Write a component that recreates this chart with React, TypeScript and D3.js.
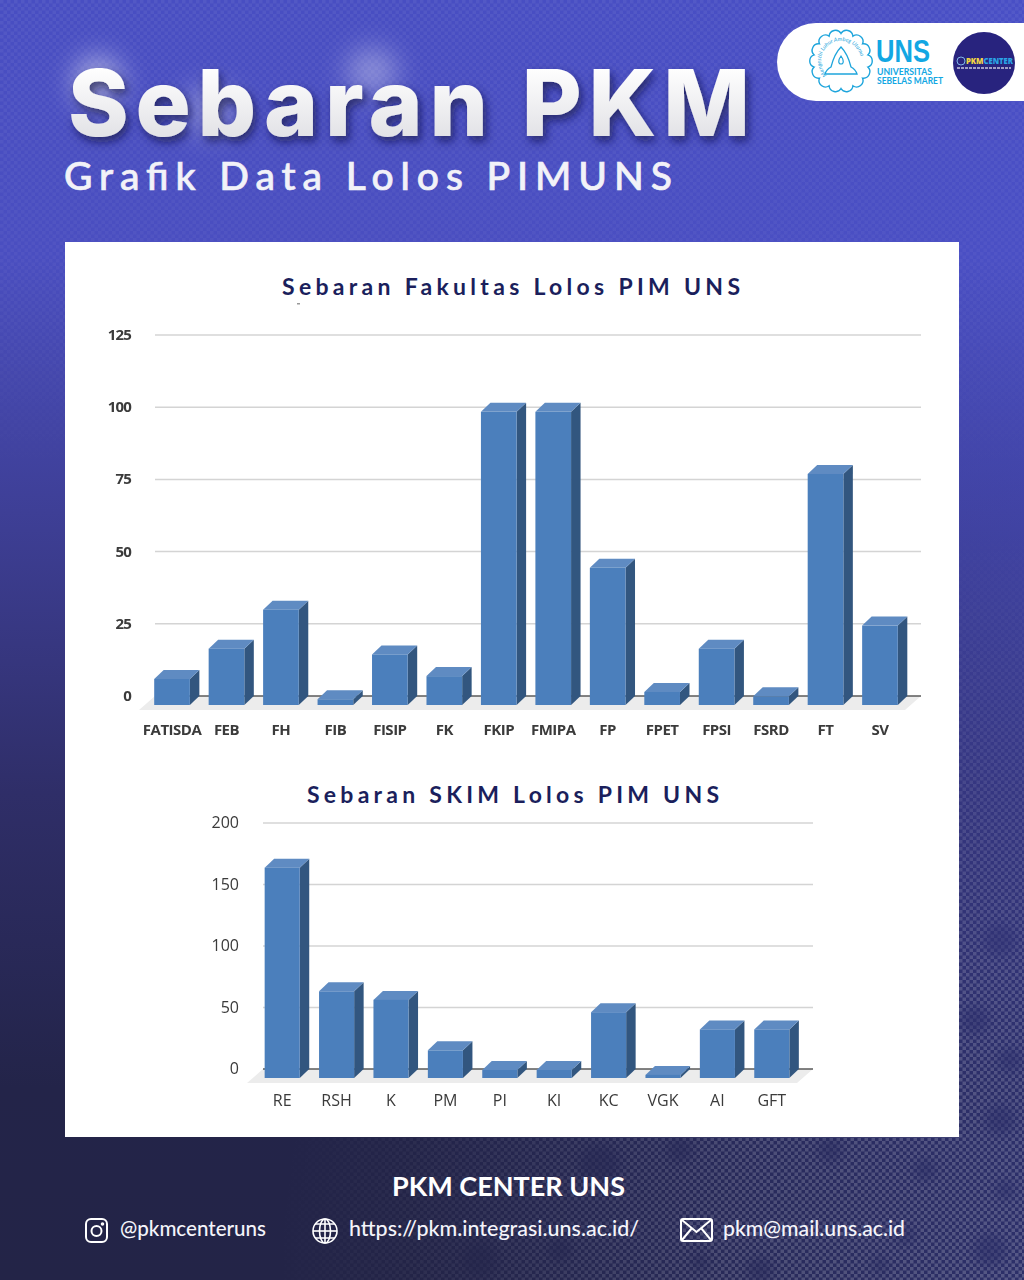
import React from "react";
import * as d3 from "d3";

// Faculty chart
const facultyNames = ["FATISDA", "FEB", "FH", "FIB", "FISIP", "FK", "FKIP", "FMIPA", "FP", "FPET", "FPSI", "FSRD", "FT", "SV"];
const facultyValues = [9, 19.5, 33, 2, 17.5, 10, 101.5, 101.5, 47.5, 4.5, 19.5, 3, 80, 27.5];
const facultyTicks = [0, 25, 50, 75, 100, 125];

// Scheme chart
const schemeNames = ["RE", "RSH", "K", "PM", "PI", "KI", "KC", "VGK", "AI", "GFT"];
const schemeValues = [171, 70.5, 63.5, 22.5, 6.5, 6.5, 53.5, 2.5, 39.5, 39.5];
const schemeTicks = [0, 50, 100, 150, 200];

// dark holes in the background texture
const textureHoles: [number, number, number][] = [
  [830, 1150, 12], [925, 1170, 11], [1000, 1120, 15], [990, 1250, 16], [905, 1235, 10], [760, 1270, 13],
  [600, 1165, 20], [480, 1260, 18], [975, 1020, 14], [1000, 940, 16], [880, 1265, 8], [680, 1150, 13],
  [1005, 1190, 10], [1010, 1060, 12], [700, 1262, 9], [560, 1250, 12],
];

const FONT = "Lato, 'Noto Sans', sans-serif";
const LABEL_FONT = "'Open Sans', 'Noto Sans', sans-serif";

type Bars3DProps = {
  names: string[];
  values: number[];
  ticks: number[];
  x: d3.ScaleBand<string>;
  y: d3.ScaleLinear<number, number>;
  axisLeft: number;
  axisRight: number;
  tickX: number;
  labelY: number;
  tickFont: number;
  tickWeight: number;
  labelFont: number;
};

// fake 3d column chart, the back face sits on the gridline plane
const Bars3D = ({ names, values, ticks, x, y, axisLeft, axisRight, tickX, labelY, tickFont, tickWeight, labelFont }: Bars3DProps) => {
  const dx = 9.5;
  const dy = 9;
  const base = y(0);
  const w = x.bandwidth();
  return (
    <g filter="url(#chartBlur)">
      <polygon
        points={`${axisLeft},${base} ${axisRight},${base} ${axisRight - 16},${base + 14} ${axisLeft - 16},${base + 14}`}
        fill="#ececec"
      />
      {ticks.map((t) => (
        <g key={t}>
          {t > 0 && <line x1={axisLeft} x2={axisRight} y1={y(t)} y2={y(t)} stroke="#d4d4d4" strokeWidth={1.5} />}
          <text
            x={tickX}
            y={y(t) + 5}
            textAnchor="end"
            fontFamily={LABEL_FONT}
            fontSize={tickFont}
            fontWeight={tickWeight}
            letterSpacing={tickWeight > 600 ? -0.8 : 0}
            fill="#3a3a3a"
          >
            {t}
          </text>
        </g>
      ))}
      <line x1={axisLeft} x2={axisRight} y1={base} y2={base} stroke="#5a5a5a" strokeWidth={1.6} />
      {names.map((n, i) => {
        const x0 = x(n)!;
        const top = y(values[i]) + dy;
        const bottom = base + dy;
        return (
          <g key={n}>
            <polygon
              points={`${x0 + w},${top} ${x0 + w + dx},${top - dy} ${x0 + w + dx},${bottom - dy} ${x0 + w},${bottom}`}
              fill="#33577f"
            />
            <polygon
              points={`${x0},${top} ${x0 + dx},${top - dy} ${x0 + w + dx},${top - dy} ${x0 + w},${top}`}
              fill="#5f8bc2"
            />
            <rect x={x0} y={top} width={w} height={bottom - top} fill="#4c7fbc" />
            <text
              x={x0 + w / 2}
              y={labelY}
              textAnchor="middle"
              fontFamily={LABEL_FONT}
              fontSize={labelFont}
              fontWeight={tickWeight}
              letterSpacing={tickWeight > 600 ? -0.5 : 0}
              fill="#3a3a3a"
            >
              {n}
            </text>
          </g>
        );
      })}
    </g>
  );
};

// scalloped outline of the university seal
const sealOutline = () => {
  const lobes = 14;
  const pts = d3.range(lobes).map((i) => d3.pointRadial((i / lobes) * 2 * Math.PI, 27.5));
  const start = pts[pts.length - 1];
  const arcs = pts.map((p) => `A 6.4 6.4 0 0 1 ${p[0].toFixed(1)} ${p[1].toFixed(1)}`).join(" ");
  return `M ${start[0].toFixed(1)} ${start[1].toFixed(1)} ${arcs} Z`;
};

const App = () => {
  const x1 = d3.scaleBand<string>().domain(facultyNames).range([144.8, 907.2]).paddingInner(0.345).paddingOuter(0.1725);
  const y1 = d3.scaleLinear().domain([0, 125]).range([696, 335]);
  const x2 = d3.scaleBand<string>().domain(schemeNames).range([255, 799]).paddingInner(0.355).paddingOuter(0.1775);
  const y2 = d3.scaleLinear().domain([0, 200]).range([1069, 823]);

  return (
    <svg width={1024} height={1280} style={{ position: "absolute", left: 0, top: 0 }}>
      <defs>
        <linearGradient id="bg" x1="0" y1="0" x2="0" y2="1">
          <stop offset="0" stopColor="#484ec2" />
          <stop offset="0.2" stopColor="#4a4ec0" />
          <stop offset="0.4" stopColor="#3e3f96" />
          <stop offset="0.62" stopColor="#2f2e68" />
          <stop offset="0.85" stopColor="#232449" />
          <stop offset="1" stopColor="#232447" />
        </linearGradient>
        <linearGradient id="rightGlow" x1="0" y1="0" x2="1" y2="0">
          <stop offset="0.4" stopColor="#4a52d0" stopOpacity="0" />
          <stop offset="1" stopColor="#4a52d0" stopOpacity="0.25" />
        </linearGradient>
        <pattern id="checker" width="7" height="7" patternUnits="userSpaceOnUse">
          <rect width="3.5" height="3.5" fill="#fff" />
          <rect x="3.5" y="3.5" width="3.5" height="3.5" fill="#fff" />
        </pattern>
        <radialGradient id="texBottom" gradientUnits="userSpaceOnUse" cx={1024} cy={1280} r={760}>
          <stop offset="0" stopColor="#fff" stopOpacity="0.2" />
          <stop offset="0.4" stopColor="#fff" stopOpacity="0.17" />
          <stop offset="0.75" stopColor="#fff" stopOpacity="0.06" />
          <stop offset="1" stopColor="#fff" stopOpacity="0" />
        </radialGradient>
        <linearGradient id="texTop" x1="0" y1="0" x2="0" y2="1">
          <stop offset="0" stopColor="#fff" stopOpacity="0.06" />
          <stop offset="0.25" stopColor="#fff" stopOpacity="0.035" />
          <stop offset="0.38" stopColor="#fff" stopOpacity="0" />
        </linearGradient>
        <mask id="texBottomMask" maskUnits="userSpaceOnUse" x={0} y={0} width={1024} height={1280}>
          <rect width={1024} height={1280} fill="url(#texBottom)" />
          <g filter="url(#holeBlur)">
            {textureHoles.map(([cx, cy, r]) => (
              <circle key={`${cx}-${cy}`} cx={cx} cy={cy} r={r} fill="#000" fillOpacity={0.55} />
            ))}
          </g>
        </mask>
        <mask id="texTopMask" maskUnits="userSpaceOnUse" x={0} y={0} width={1024} height={1280}>
          <rect width={1024} height={1280} fill="url(#texTop)" />
        </mask>
        <linearGradient id="titleFill" gradientUnits="userSpaceOnUse" x1={0} y1={66} x2={0} y2={138}>
          <stop offset="0" stopColor="#ffffff" />
          <stop offset="1" stopColor="#e2e2e6" />
        </linearGradient>
        <filter id="titleShadow" x="-10%" y="-30%" width="120%" height="170%">
          <feDropShadow dx="3" dy="5" stdDeviation="5" floodColor="#15163f" floodOpacity="0.65" />
        </filter>
        <filter id="glow" x="-100%" y="-100%" width="300%" height="300%">
          <feGaussianBlur stdDeviation="14" />
        </filter>
        <filter id="holeBlur" x="-50%" y="-50%" width="200%" height="200%">
          <feGaussianBlur stdDeviation="5" />
        </filter>
        <filter id="chartBlur" x="-5%" y="-5%" width="110%" height="110%">
          <feGaussianBlur stdDeviation="0.45" />
        </filter>
        <path id="sealArc" d="M 826.9 75.1 A 20 20 0 1 1 855.1 75.1" />
      </defs>

      <rect width={1024} height={1280} fill="url(#bg)" />
      <rect width={1024} height={1280} fill="url(#rightGlow)" />
      <rect width={1024} height={1280} fill="url(#checker)" mask="url(#texBottomMask)" />
      <rect width={1024} height={1280} fill="url(#checker)" mask="url(#texTopMask)" />

      {/* title */}
      <ellipse cx={98} cy={82} rx={24} ry={26} fill="#fff" opacity={0.5} filter="url(#glow)" />
      <ellipse cx={210} cy={110} rx={28} ry={24} fill="#fff" opacity={0.3} filter="url(#glow)" />
      <ellipse cx={372} cy={72} rx={26} ry={24} fill="#fff" opacity={0.35} filter="url(#glow)" />
      <text
        x={68}
        y={136}
        fontFamily="Inter, Lato, sans-serif"
        fontSize={92}
        fontWeight={800}
        fill="url(#titleFill)"
        textLength={682}
        lengthAdjust="spacing"
        filter="url(#titleShadow)"
      >
        Sebaran PKM
      </text>
      <text
        x={64}
        y={190}
        fontFamily={FONT}
        fontSize={39}
        fontWeight={500}
        fill="#f2f2f8"
        stroke="#f2f2f8"
        strokeWidth={0.7}
        textLength={608}
        lengthAdjust="spacing"
      >
        Grafik Data Lolos PIMUNS
      </text>

      {/* logo pill */}
      <rect x={777} y={23} width={290} height={78} rx={39} fill="#fff" />
      <g transform="translate(841,61)" stroke="#1ea5dc" fill="none">
        <path d={sealOutline()} strokeWidth={1.4} />
        <path d="M 0 -14 C -6 -8 -8 -2 -10 6 C -14 8 -15 10 -16 13 L 16 13 C 15 10 14 8 10 6 C 8 -2 6 -8 0 -14 Z" strokeWidth={1.3} />
        <path d="M 0 -5 C -3 -1 -3 3 0 3 C 3 3 3 -1 0 -5 Z" strokeWidth={1.2} />
      </g>
      <text fontFamily={FONT} fontSize={5.6} fill="#1ea5dc" fontStyle="italic">
        <textPath href="#sealArc">Mangesthi Luhur Ambeg Utama</textPath>
      </text>
      <text
        x={876}
        y={62}
        fontFamily="'Liberation Sans Narrow', 'Liberation Sans', sans-serif"
        fontSize={32}
        fontWeight={700}
        fill="#12a7e3"
        textLength={54}
        lengthAdjust="spacingAndGlyphs"
      >
        UNS
      </text>
      <text x={877} y={75} fontFamily={FONT} fontSize={8.8} fontWeight={700} fill="#12a7e3" textLength={55} lengthAdjust="spacingAndGlyphs">
        UNIVERSITAS
      </text>
      <text x={877} y={84} fontFamily={FONT} fontSize={8.8} fontWeight={700} fill="#12a7e3" textLength={66} lengthAdjust="spacingAndGlyphs">
        SEBELAS MARET
      </text>
      <circle cx={984} cy={63} r={31} fill="#28237e" />
      <circle cx={961} cy={61} r={4} fill="none" stroke="#7fb6e8" strokeWidth={1} />
      <text x={966} y={64} fontFamily={LABEL_FONT} fontSize={8} fontWeight={800} textLength={47} lengthAdjust="spacingAndGlyphs">
        <tspan fill="#f2d544">PKM</tspan>
        <tspan fill="#2aa5e6">CENTER</tspan>
      </text>
      <line x1={957} x2={1011} y1={68} y2={68} stroke="#c8c8e0" strokeWidth={1.4} strokeDasharray="3 1" />

      {/* white panel */}
      <rect x={65} y={242} width={894} height={895} fill="#fff" />

      <text x={282} y={295} fontFamily={FONT} fontSize={23} fontWeight={700} fill="#1b1f5c" textLength={458} lengthAdjust="spacing">
        Sebaran Fakultas Lolos PIM UNS
      </text>
      <rect x={297} y={303} width={3} height={1.5} fill="#999" />
      <Bars3D
        names={facultyNames}
        values={facultyValues}
        ticks={facultyTicks}
        x={x1}
        y={y1}
        axisLeft={155}
        axisRight={921}
        tickX={131}
        labelY={735}
        tickFont={15}
        tickWeight={700}
        labelFont={15}
      />

      <text x={307} y={803} fontFamily={FONT} fontSize={23} fontWeight={700} fill="#1b1f5c" textLength={412} lengthAdjust="spacing">
        Sebaran SKIM Lolos PIM UNS
      </text>
      <Bars3D
        names={schemeNames}
        values={schemeValues}
        ticks={schemeTicks}
        x={x2}
        y={y2}
        axisLeft={263}
        axisRight={813}
        tickX={239}
        labelY={1106}
        tickFont={16}
        tickWeight={500}
        labelFont={16}
      />

      {/* footer */}
      <text x={392} y={1196} fontFamily={FONT} fontSize={27} fontWeight={700} fill="#fff" textLength={233} lengthAdjust="spacingAndGlyphs">
        PKM CENTER UNS
      </text>

      <g fill="none" stroke="#fff" strokeWidth={2}>
        <rect x={86} y={1219} width={21} height={23} rx={5} />
        <circle cx={96.5} cy={1231} r={5} />
        <circle cx={102.5} cy={1224} r={0.8} fill="#fff" />
      </g>
      <text x={120} y={1236} fontFamily={FONT} fontSize={20.5} fontWeight={500} fill="#f4f4fa" textLength={146} lengthAdjust="spacingAndGlyphs">
        @pkmcenteruns
      </text>

      <g fill="none" stroke="#fff" strokeWidth={1.6}>
        <circle cx={325} cy={1231} r={12} />
        <ellipse cx={325} cy={1231} rx={5.5} ry={12} />
        <line x1={325} x2={325} y1={1219} y2={1243} />
        <line x1={313} x2={337} y1={1231} y2={1231} />
        <path d="M 315 1224 H 335 M 315 1238 H 335" />
      </g>
      <text x={349} y={1236} fontFamily={FONT} fontSize={20.5} fontWeight={500} fill="#f4f4fa" textLength={290} lengthAdjust="spacingAndGlyphs">
        https://pkm.integrasi.uns.ac.id/
      </text>

      <g fill="none" stroke="#fff" strokeWidth={2}>
        <rect x={681} y={1219} width={31} height={22} rx={2} />
        <path d="M 682 1220 L 696.5 1232 L 711 1220 M 682 1240 L 692 1228 M 711 1240 L 701 1228" />
      </g>
      <text x={723} y={1236} fontFamily={FONT} fontSize={20.5} fontWeight={500} fill="#f4f4fa" textLength={182} lengthAdjust="spacingAndGlyphs">
        pkm@mail.uns.ac.id
      </text>
    </svg>
  );
};

export default App;
